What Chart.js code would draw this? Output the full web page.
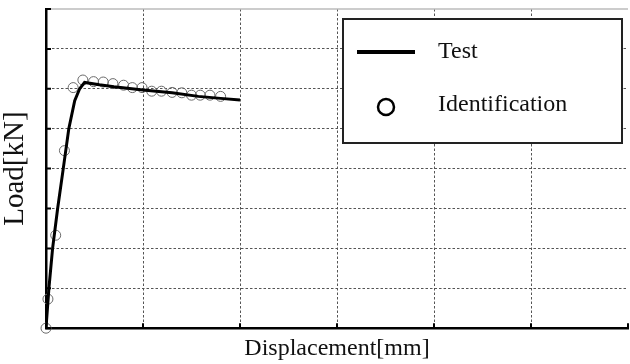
<!DOCTYPE html>
<html>
<head>
<meta charset="utf-8">
<script src="https://cdn.jsdelivr.net/npm/chart.js@4.4.1/dist/chart.umd.min.js"></script>
<style>
    html, body { margin: 0; padding: 0; background: #fff; overflow: hidden; }
    #wrap { position: relative; width: 634px; height: 364px; }
</style>
</head>
<body>
<div id="wrap"><canvas id="load-chart"></canvas></div>
<script>
// measured load-displacement curve
const testDisp = [0, 0.03, 0.068, 0.12, 0.175, 0.235, 0.296, 0.347, 0.398, 0.55, 0.7, 1.0, 1.3, 1.57, 1.8, 2.0];
const testLoad = [0, 1.0, 2.0, 3.0, 3.95, 5.0, 5.7, 6.0, 6.16, 6.1, 6.05, 5.97, 5.9, 5.81, 5.76, 5.72];

// identified model response
const identDisp = [0, 0.02, 0.1, 0.19, 0.28, 0.38, 0.49, 0.59, 0.69, 0.8, 0.89, 0.99, 1.09, 1.19, 1.3, 1.4, 1.5, 1.59, 1.69, 1.8];
const identLoad = [0, 0.73, 2.33, 4.45, 6.03, 6.22, 6.18, 6.17, 6.13, 6.09, 6.03, 6.03, 5.94, 5.94, 5.91, 5.9, 5.84, 5.84, 5.84, 5.81];

const seriesNames = ["Test", "Identification"];
const xRange = [0, 6];
const yRange = [0, 8];

const SERIF = '"Liberation Serif", "Times New Roman", serif';

function toPoints(xs, ys) {
    return xs.map((x, i) => ({ x: x, y: ys[i] }));
}

// light top frame and short inward tick marks
const frameTicks = {
    id: "frameTicks",
    afterDraw(chart) {
        const { ctx, chartArea, scales } = chart;
        ctx.save();
        ctx.strokeStyle = "#bbb";
        ctx.lineWidth = 1.5;
        ctx.beginPath();
        ctx.moveTo(chartArea.left, chartArea.top);
        ctx.lineTo(chartArea.right, chartArea.top);
        ctx.stroke();

        ctx.strokeStyle = "#000";
        ctx.lineWidth = 2;
        ctx.beginPath();
        scales.y.ticks.forEach((t) => {
            const py = scales.y.getPixelForValue(t.value);
            ctx.moveTo(chartArea.left, py);
            ctx.lineTo(chartArea.left + 5, py);
        });
        scales.x.ticks.forEach((t) => {
            const px = scales.x.getPixelForValue(t.value);
            ctx.moveTo(px, chartArea.bottom);
            ctx.lineTo(px, chartArea.bottom - 5);
        });
        ctx.stroke();
        ctx.restore();
    },
};

// boxed legend in the upper right
const boxLegend = {
    id: "boxLegend",
    afterDraw(chart) {
        const ctx = chart.ctx;
        const x = 343, y = 19, w = 279, h = 124;
        ctx.save();
        ctx.fillStyle = "#fff";
        ctx.fillRect(x, y, w, h);
        ctx.strokeStyle = "#222";
        ctx.lineWidth = 2;
        ctx.strokeRect(x, y, w, h);

        ctx.strokeStyle = "#000";
        ctx.lineWidth = 4;
        ctx.beginPath();
        ctx.moveTo(x + 14, y + 33);
        ctx.lineTo(x + 72, y + 33);
        ctx.stroke();

        ctx.lineWidth = 2.5;
        ctx.beginPath();
        ctx.arc(x + 43, y + 88, 8, 0, Math.PI * 2);
        ctx.stroke();

        ctx.fillStyle = "#111";
        ctx.font = "24px " + SERIF;
        ctx.textBaseline = "alphabetic";
        ctx.fillText(chart.data.datasets[0].label, x + 95, y + 39);
        ctx.fillText(chart.data.datasets[1].label, x + 95, y + 92);
        ctx.restore();
    },
};

const gridColor = (top) => (c) => (c.tick && c.tick.value === top ? "rgba(0,0,0,0)" : "#555");

new Chart(document.getElementById("load-chart"), {
    type: "scatter",
    data: {
        datasets: [
            {
                label: seriesNames[0],
                data: toPoints(testDisp, testLoad),
                showLine: true,
                borderColor: "#000",
                borderWidth: 3,
                pointRadius: 0,
                order: 0,
            },
            {
                label: seriesNames[1],
                data: toPoints(identDisp, identLoad),
                showLine: false,
                pointStyle: "circle",
                pointRadius: 5,
                pointBorderColor: "#6a6a6a",
                pointBackgroundColor: "rgba(0,0,0,0)",
                pointBorderWidth: 1,
                clip: false,
                order: 1,
            },
        ],
    },
    options: {
        responsive: true,
        maintainAspectRatio: false,
        animation: false,
        layout: { padding: { top: 9, left: 0, right: 0, bottom: 0 } },
        plugins: {
            legend: { display: false },
            tooltip: { enabled: false },
        },
        scales: {
            x: {
                type: "linear",
                min: xRange[0],
                max: xRange[1],
                ticks: { display: false, stepSize: 1 },
                grid: { color: gridColor(xRange[1]), lineWidth: 1, drawTicks: false },
                border: { color: "#000", width: 2.5, dash: [2.5, 2] },
                title: {
                    display: true,
                    text: "Displacement[mm]",
                    color: "#111",
                    font: { family: SERIF, size: 24 },
                    padding: { top: 6, bottom: 1 },
                },
            },
            y: {
                type: "linear",
                min: yRange[0],
                max: yRange[1],
                ticks: { display: false, stepSize: 1 },
                grid: { color: gridColor(yRange[1]), lineWidth: 1, drawTicks: false },
                border: { color: "#000", width: 2.5, dash: [2.5, 2] },
                title: {
                    display: true,
                    text: "Load[kN]",
                    color: "#111",
                    font: { family: SERIF, size: 29, lineHeight: 1.0 },
                    padding: { top: 1, bottom: 16 },
                },
            },
        },
    },
    plugins: [frameTicks, boxLegend],
});
</script>
</body>
</html>
